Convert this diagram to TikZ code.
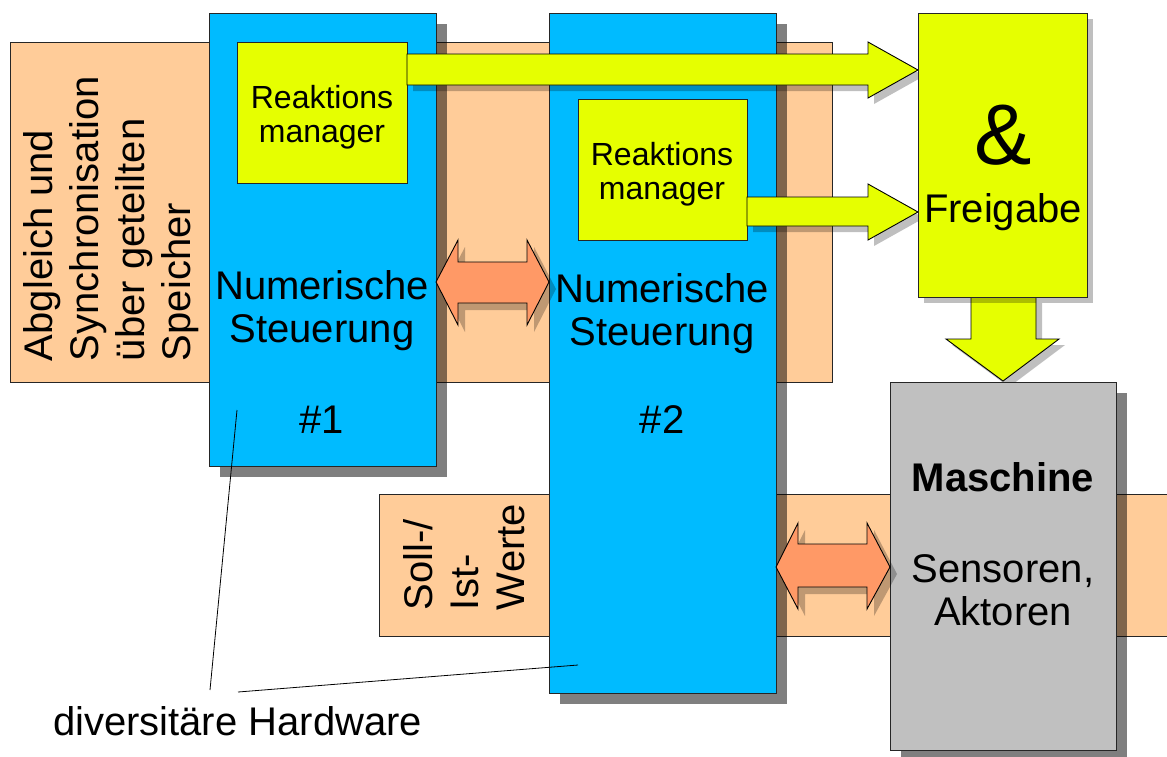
\documentclass[tikz,border=0pt]{standalone}
\usepackage{fontspec}
\setmainfont{Liberation Sans}
\usetikzlibrary{shadows,calc}

\definecolor{ncblue}{HTML}{00BBFF}
\definecolor{sigyellow}{HTML}{E6FF00}
\definecolor{peach}{HTML}{FFCC99}
\definecolor{arrorange}{HTML}{FF9966}
\definecolor{machgray}{HTML}{C0C0C0}

\newcommand\fbig{\fontsize{40}{43}\selectfont}
\newcommand\fside{\fontsize{40}{46}\selectfont}
\newcommand\fsmall{\fontsize{32}{34}\selectfont}
\newcommand\famp{\fontsize{86}{90}\selectfont}

\tikzset{
  boxline/.style={draw=black!85, line width=0.9pt, inner sep=0pt, outer sep=0pt, anchor=north west},
  bigshadow/.style={drop shadow={shadow xshift=11pt, shadow yshift=-11pt, fill=black, opacity=0.5}},
  smallshadow/.style={drop shadow={shadow xshift=6pt, shadow yshift=-6pt, fill=black, opacity=0.25}},
  arrshadow/.style={drop shadow={shadow xshift=7pt, shadow yshift=-7pt, fill=black, opacity=0.25}},
  membox/.style={boxline, fill=peach},
  ncbox/.style={boxline, fill=ncblue, bigshadow},
  rmbox/.style={boxline, fill=sigyellow},
  frbox/.style={boxline, fill=sigyellow, smallshadow},
  machbox/.style={boxline, fill=machgray, bigshadow},
  yarrow/.style={draw=black, line width=0.9pt, fill=sigyellow, smallshadow, line join=miter},
  oarrow/.style={draw=black, line width=0.9pt, fill=arrorange, arrshadow, line join=miter},
  lbl/.style={inner sep=0pt, outer sep=0pt, text=black, align=center},
  leader/.style={draw=black, line width=0.8pt}
}

\begin{document}
\begin{tikzpicture}[x=1pt,y=-1pt]
\useasboundingbox (0,0) rectangle (1167,756);

% shared memory band and set-point band
\node[membox, minimum width=822, minimum height=340] (mem) at (10,42) {};
\node[membox, minimum width=800, minimum height=142] (soll) at (379,494) {};

% the two numerical controls
\node[ncbox, minimum width=227, minimum height=453] (nc1) at (209,13) {};
\node[ncbox, minimum width=227, minimum height=680] (nc2) at (549,13) {};

% reaction managers
\node[rmbox, minimum width=170, minimum height=141] (rm1) at (237,42) {};
\node[rmbox, minimum width=169, minimum height=141] (rm2) at (578,99) {};

% block arrows to the release gate
\path[yarrow] (rm1.east |- 0,54) -- (868,54) -- (868,42) -- (918,70)
  -- (868,98) -- (868,85) -- (rm1.east |- 0,85) -- cycle;
\path[yarrow] (rm2.east |- 0,197) -- (868,197) -- (868,184) -- (918,212)
  -- (868,240) -- (868,226) -- (rm2.east |- 0,226) -- cycle;
\path[yarrow] (971,297) -- (971,339) -- (946,339) -- (1003,381)
  -- (1059,339) -- (1036,339) -- (1036,297) -- cycle;

% release gate and machine
\node[frbox, minimum width=169, minimum height=284] (fr) at (918,13) {};
\node[machbox, minimum width=226, minimum height=368] (mach) at (890,382) {};

% exchange arrows
\path[oarrow] (nc1.east |- 0,282) -- (458,240) -- (458,262) -- (527,262)
  -- (527,240) -- (nc2.west |- 0,282) -- (527,325) -- (527,303)
  -- (458,303) -- (458,325) -- cycle;
\path[oarrow] (nc2.east |- 0,567) -- (798,523) -- (798,544) -- (867,544)
  -- (867,523) -- (mach.west |- 0,567) -- (867,609) -- (867,587)
  -- (798,587) -- (798,609) -- cycle;

% texts
\node[lbl, rotate=90, align=left, anchor=west, font=\fside] (memtxt) at (111,361)
  {Abgleich und\\Synchronisation\\über geteilten\\Speicher};
\node[lbl, rotate=90, align=left, anchor=west, font=\fside] (solltxt) at (464,610)
  {Soll-/\\Ist-\\Werte};

\node[lbl, font=\fsmall] (rm1txt) at (322,117) {Reaktions\\manager};
\node[lbl, font=\fsmall] (rm2txt) at (662,174) {Reaktions\\manager};

\node[lbl, font=\fbig] (nc1txt) at (322,311) {Numerische\\Steuerung};
\node[lbl, font=\fbig] (nc2txt) at (662,314) {Numerische\\Steuerung};
\node[lbl, font=\fbig, anchor=base] (nc1num) at (322,433) {\#1};
\node[lbl, font=\fbig, anchor=base] (nc2num) at (662,433) {\#2};

\node[lbl, font=\famp, anchor=base] (amp) at (1003,164) {\&};
\node[lbl, font=\fbig, anchor=base] (frtxt) at (1003,222) {Freigabe};

\node[lbl, font=\fbig\bfseries, anchor=base] (machtxt) at (1003,491) {Maschine};
\node[lbl, font=\fbig] (senstxt) at (1003,590) {Sensoren,\\Aktoren};

\node[lbl, font=\fbig, anchor=base west] (hwtxt) at (53,735) {diversitäre Hardware};

% leaders to the two hardware boards
\coordinate (hw1) at (210,690);
\coordinate (hw2) at (238,692);
\coordinate (p1) at (237,410);
\coordinate (p2) at (578,665);
\draw[leader] (p1) -- (hw1);
\draw[leader] (p2) -- (hw2);
\end{tikzpicture}
\end{document}
